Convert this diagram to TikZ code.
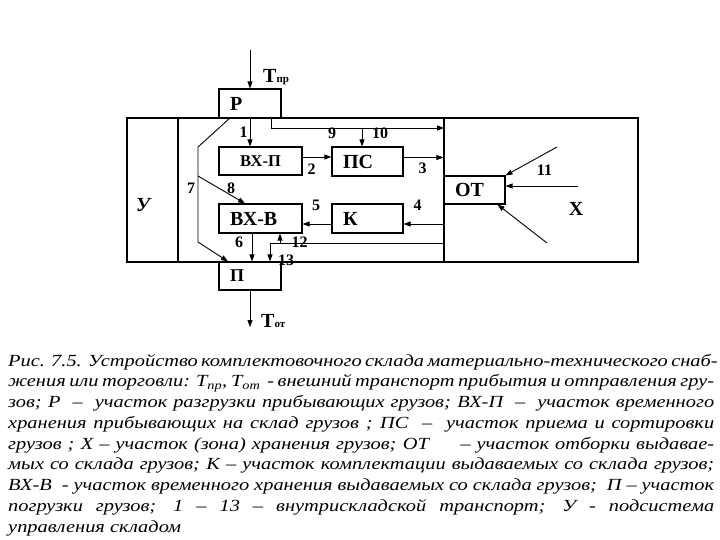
\documentclass[tikz,border=0pt]{standalone}
\usepackage{fontspec}
\setmainfont{Liberation Serif}
\newfontfamily\capfont[FakeStretch=1.2]{Liberation Serif}
\usetikzlibrary{arrows.meta, positioning, calc}

\begin{document}
\begin{tikzpicture}[x=1pt, y=-1pt,
    box/.style={rectangle, draw, line width=1.1pt, inner sep=0pt, font=\fontsize{20}{20}\selectfont\bfseries},
    lbox/.style={box, align=left, text width=#1, inner xsep=11pt},
    num/.style={inner sep=0pt, font=\fontsize{16}{16}\selectfont\bfseries},
    arrow/.style={-{Triangle[length=7pt, width=5pt]}, line width=0.9pt},
    frame/.style={line width=1.1pt},
    capline/.style={inner sep=0pt, anchor=base west, font=\capfont\itshape\fontsize{17}{20}\selectfont}
]
\fill[white] (0,0) rectangle (720,540);
\useasboundingbox (0,0) rectangle (720,540);
% warehouse frame
\draw[frame] (127,118) rectangle (638,262);
\draw[frame] (178,118) -- (178,262);
\draw[frame] (444,118) -- (444,262);
\node[font=\fontsize{20}{20}\selectfont\bfseries\itshape] (upr) at (143,205) {У};
% areas
\node[lbox=40pt, minimum width=62pt, minimum height=29pt] (unload) at (250,103.5) {Р};
\node[box, minimum width=83pt, minimum height=28pt, font=\fontsize{16.5}{16.5}\selectfont\bfseries] (tempin) at (260.5,161) {ВХ-П};
\node[lbox=49pt, minimum width=71pt, minimum height=29pt] (sort) at (367.5,161.5) {ПС};
\node[lbox=61pt, minimum width=83pt, minimum height=29pt] (tempout) at (260.5,218.5) {ВХ-В};
\node[lbox=49pt, minimum width=71pt, minimum height=29pt] (kompl) at (367.5,218.5) {К};
\node[lbox=39pt, minimum width=61pt, minimum height=28pt] (pick) at (474.5,190) {ОТ};
\node[lbox=40pt, minimum width=62pt, minimum height=28pt, font=\fontsize{18}{18}\selectfont\bfseries] (load) at (250,276) {П};
% external transport
\coordinate (tinstart) at (250,50);
\draw[arrow] (tinstart) -- (unload.north);
\node[anchor=west, inner sep=0pt] (tin) at (263,77) {\bfseries\fontsize{20}{20}\selectfont Т\fontsize{11}{11}\selectfont пр};
\coordinate (toutend) at (250,327);
\draw[arrow] (load.south) -- (toutend);
\node[anchor=west, inner sep=0pt] (tout) at (261,321) {\bfseries\fontsize{20}{20}\selectfont Т\fontsize{11}{11}\selectfont от};
% inner transport
\draw[arrow] (unload.south) -- (unload.south |- tempin.north);
\coordinate (s9) at (271,118);
\coordinate (e9) at (444,128);
\draw[arrow] (s9) |- (e9);
\coordinate (s10) at (362,128);
\draw[arrow] (s10) -- (s10 |- sort.north);
\coordinate (s2) at ([yshift=4pt]tempin.east);
\draw[arrow] (s2) -- (s2 -| sort.west);
\coordinate (s3) at ([yshift=4pt]sort.east);
\draw[arrow] (s3) -- (s3 -| pick.west);
\coordinate (s4) at (444,224);
\draw[arrow] (s4) -- (s4 -| kompl.east);
\draw[arrow] (s4 -| kompl.west) -- (s4 -| tempout.east);
\coordinate (s6) at ([xshift=-8.5pt]tempout.south);
\draw[arrow] (s6) -- (s6 |- load.north);
\coordinate (s12) at (444,243);
\coordinate (c13) at (270,243);
\draw[arrow] (s12) -- (c13) -- (c13 |- load.north);
\coordinate (j12) at (280,243);
\draw[arrow] (j12) -- (j12 |- tempout.south);
\coordinate (a7) at (230,118);
\coordinate (b7) at (198,147);
\coordinate (c7) at (198,242);
\draw[arrow] (a7) -- (b7) -- (c7) -- ([xshift=-22pt]load.north);
\coordinate (j8) at (198,176);
\draw[arrow] (j8) -- ([xshift=-15.5pt]tempout.north);
% from storage
\coordinate (x1) at (557,147);
\coordinate (x2) at (578,186);
\coordinate (x3) at (547,243);
\draw[arrow] (x1) -- (pick.north east);
\draw[arrow] (x2) -- (x2 -| pick.east);
\draw[arrow] (x3) -- ([xshift=-8pt]pick.south east);
\node[font=\fontsize{20}{20}\selectfont\bfseries] (store) at (576,208.5) {Х};
% numbers
\node[num] (n1) at (243.5,132) {1};
\node[num] (n2) at (311.5,169) {2};
\node[num] (n3) at (422.5,168.5) {3};
\node[num] (n4) at (417.5,205.5) {4};
\node[num] (n5) at (316,205.5) {5};
\node[num] (n6) at (239,242.5) {6};
\node[num] (n7) at (191,188) {7};
\node[num] (n8) at (231,188) {8};
\node[num] (n9) at (332,133) {9};
\node[num] (n10) at (380,133) {10};
\node[num] (n11) at (544.5,170) {11};
\node[num] (n12) at (299.5,242.5) {12};
\node[num] (n13) at (286,260.5) {13};
% caption
\foreach \txt [count=\i] in {
    {Рис. 7.5. Устройство комплектовочного склада материально-технического снаб-},
    {жения или торговли: Т\textsubscript{пр}, Т\textsubscript{от}\ \ - внешний транспорт прибытия и отправления гру-},
    {зов; Р \ – \ участок разгрузки прибывающих грузов; ВХ-П \ – \ участок временного},
    {хранения прибывающих на склад грузов ; ПС \ – \ участок приема и сортировки},
    {грузов ; Х – участок (зона) хранения грузов; ОТ\hspace{1.5em} – участок отборки выдавае-},
    {мых со склада грузов; К – участок комплектации выдаваемых со склада грузов;},
    {ВХ-В \ - участок временного хранения выдаваемых со склада грузов; \ П – участок},
    {погрузки грузов; 1 – 13 – внутрискладской транспорт; У - подсистема}}
    \node[capline] (cap\i) at (8,{366+20.75*(\i-1)}) {\makebox[706pt][s]{\txt}};
\node[capline] (cap9) at (8,532) {управления складом};
\end{tikzpicture}
\end{document}
